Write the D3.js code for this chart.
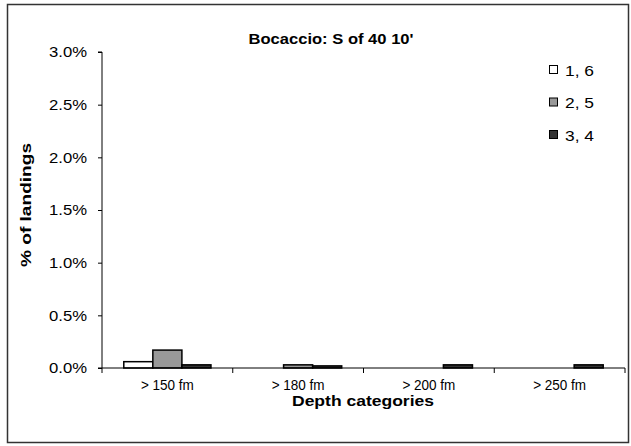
<!DOCTYPE html>
<html><head><meta charset="utf-8">
<script src="https://cdn.jsdelivr.net/npm/d3@7"></script>
<style>body{margin:0;background:#fff}svg{display:block;font-family:"Liberation Sans",Arial,sans-serif}</style>
</head><body>
<svg id="c" width="631" height="446"></svg>
<script>
const categories = ["> 150 fm", "> 180 fm", "> 200 fm", "> 250 fm"];
const seriesNames = ["1, 6", "2, 5", "3, 4"];
const series16 = [0.0006, 0, 0, 0];
const series25 = [0.0017, 0.0003, 0, 0];
const series34 = [0.0003, 0.0002, 0.0003, 0.0003];
const yTicks = [0, 0.005, 0.01, 0.015, 0.02, 0.025, 0.03];
const colors = ["#ffffff", "#999999", "#333333"];

(function () {
const seriesData = [series16, series25, series34];
const svg = d3.select("#c");
const pLeft = 102, pRight = 625, pTop = 52, pBottom = 368;

svg.append("rect").attr("x", 7.5).attr("y", 4.5).attr("width", 621).attr("height", 438)
  .attr("fill", "none").attr("stroke", "#333").attr("stroke-width", 1.5);

const x = d3.scaleBand().domain(categories).range([pLeft, pRight]).paddingInner(0).paddingOuter(0);
const inner = d3.scaleBand().domain(d3.range(3)).range([0, x.bandwidth()]).paddingOuter(0.75).paddingInner(0);
const y = d3.scaleLinear().domain([0, 0.03]).range([pBottom, pTop]);

// bars
categories.forEach((c, i) => {
  seriesData.forEach((s, j) => {
    if (s[i] <= 0) return;
    svg.append("rect")
      .attr("x", x(c) + inner(j)).attr("y", y(s[i]))
      .attr("width", inner.bandwidth()).attr("height", y(0) - y(s[i]))
      .attr("fill", colors[j]).attr("stroke", "#000").attr("stroke-width", 1.5);
  });
});

// y axis
const yAxis = d3.axisLeft(y).tickValues(yTicks).tickFormat(d3.format(".1%")).tickSize(4).tickPadding(11);
const ya = svg.append("g").attr("transform", `translate(${pLeft},0)`).call(yAxis);
ya.select(".domain").attr("stroke", "#000").attr("d", `M-4,${pTop}H0V${pBottom}`);
ya.selectAll("text").attr("font-size", 15).attr("fill", "#000")
  .attr("font-family", "Liberation Sans, Arial, sans-serif")
  .attr("textLength", 38).attr("lengthAdjust", "spacingAndGlyphs");

// x axis
const xa = svg.append("g").attr("transform", `translate(0,${pBottom})`);
xa.append("line").attr("x1", pLeft - 4).attr("x2", pRight).attr("y1", 0).attr("y2", 0).attr("stroke", "#000");
const bounds = categories.map(c => x(c)).concat([x(categories[categories.length - 1]) + x.bandwidth()]);
bounds.forEach(b => xa.append("line").attr("x1", b).attr("x2", b).attr("y1", 0).attr("y2", 5).attr("stroke", "#000"));
categories.forEach(c => xa.append("text").attr("x", x(c) + x.bandwidth() / 2).attr("y", 22)
  .attr("text-anchor", "middle").attr("font-size", 14)
  .attr("textLength", 53).attr("lengthAdjust", "spacingAndGlyphs").text(c));

// titles
svg.append("text").attr("x", 331).attr("y", 44).attr("text-anchor", "middle")
  .attr("font-size", 15).attr("font-weight", "bold")
  .attr("textLength", 165).attr("lengthAdjust", "spacingAndGlyphs").text("Bocaccio: S of 40 10'");
svg.append("text").attr("x", 363).attr("y", 406).attr("text-anchor", "middle")
  .attr("font-size", 15.5).attr("font-weight", "bold")
  .attr("textLength", 142).attr("lengthAdjust", "spacingAndGlyphs").text("Depth categories");
svg.append("text").attr("transform", `translate(31,205) rotate(-90)`).attr("text-anchor", "middle")
  .attr("font-size", 15.5).attr("font-weight", "bold")
  .attr("textLength", 124).attr("lengthAdjust", "spacingAndGlyphs").text("% of landings");

// legend
const lg = svg.append("g");
seriesNames.forEach((n, j) => {
  const ly = 70 + j * 32.5;
  lg.append("rect").attr("x", 549.5).attr("y", ly - 4.5).attr("width", 8).attr("height", 8)
    .attr("fill", colors[j]).attr("stroke", "#000").attr("stroke-width", 1);
  lg.append("text").attr("x", 565).attr("y", ly + 5.5).attr("font-size", 15)
    .attr("textLength", 29).attr("lengthAdjust", "spacingAndGlyphs").text(n);
});
})();
</script>
</body></html>
